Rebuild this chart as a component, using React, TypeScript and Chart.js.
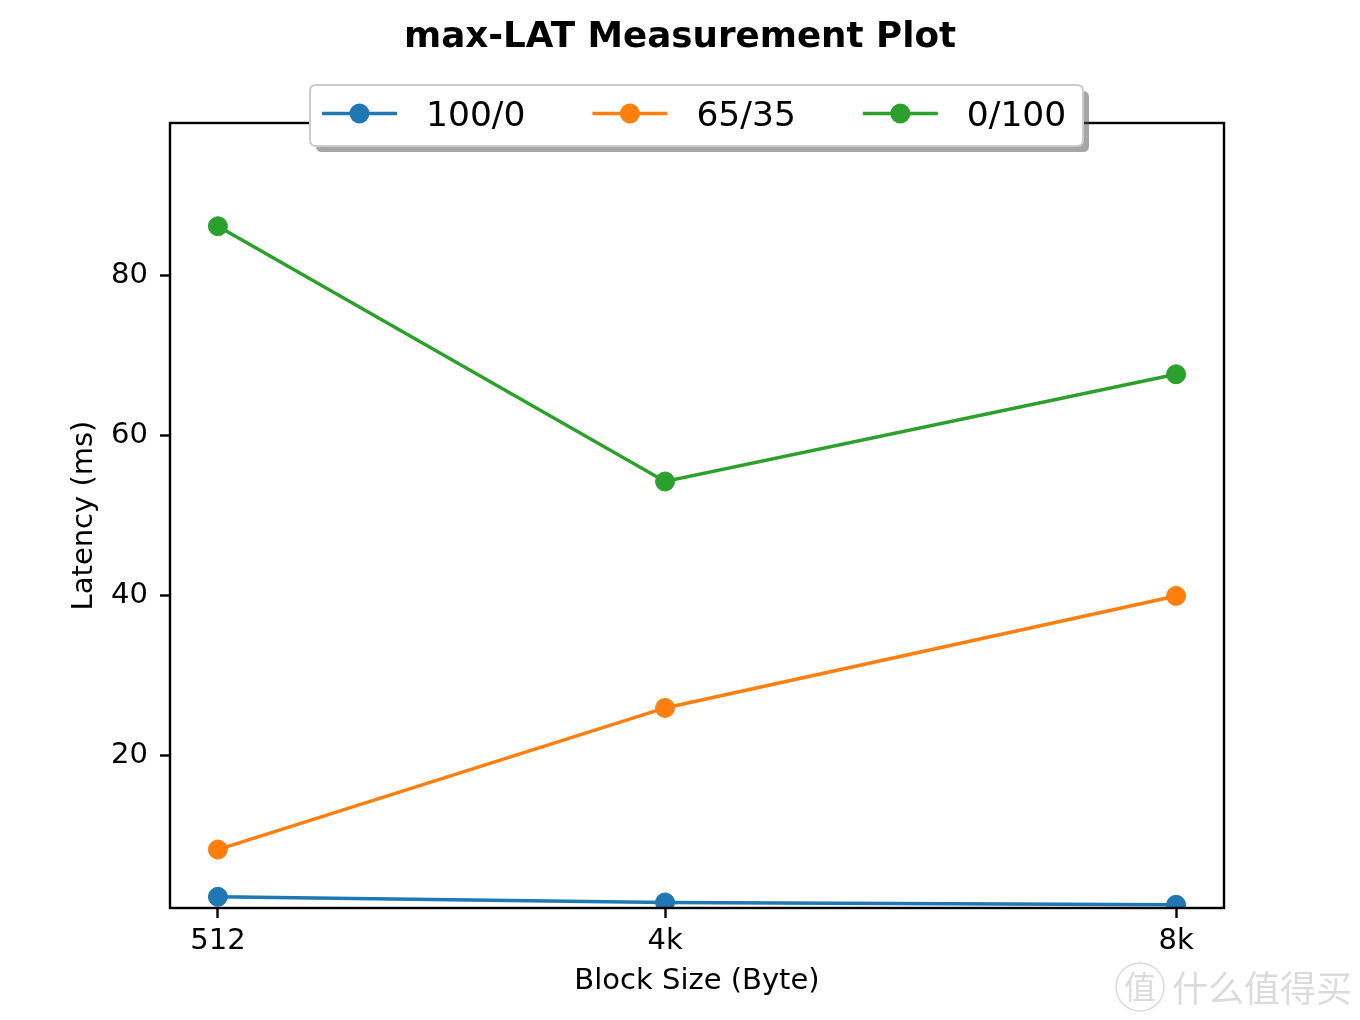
import React, { useEffect, useRef } from 'react';
import { Chart, registerables } from 'chart.js';

Chart.register(...registerables);

// ---- data ----
const blockSizes = [512, 4096, 8192];
const blockLabels = ['512', '4k', '8k'];
const series100_0 = [2.4, 1.7, 1.4];
const series65_35 = [8.3, 26.0, 40.0];
const series0_100 = [86.2, 54.3, 67.7];
const seriesNames = ['100/0', '65/35', '0/100'];
const seriesColors = ['#1f77b4', '#ff7f0e', '#2ca02c'];
const yTickValues = [20, 40, 60, 80];
const chartTitle = 'max-LAT Measurement Plot';
const xTitle = 'Block Size (Byte)';
const yTitle = 'Latency (ms)';
const watermarkText = '什么值得买';

const FONT = "'DejaVu Sans', 'Noto Sans', sans-serif";

function roundRect(ctx: CanvasRenderingContext2D, x: number, y: number, w: number, h: number, r: number) {
  ctx.beginPath();
  ctx.moveTo(x + r, y);
  ctx.lineTo(x + w - r, y);
  ctx.quadraticCurveTo(x + w, y, x + w, y + r);
  ctx.lineTo(x + w, y + h - r);
  ctx.quadraticCurveTo(x + w, y + h, x + w - r, y + h);
  ctx.lineTo(x + r, y + h);
  ctx.quadraticCurveTo(x, y + h, x, y + h - r);
  ctx.lineTo(x, y + r);
  ctx.quadraticCurveTo(x, y, x + r, y);
  ctx.closePath();
}

const decorPlugin = {
  id: 'decor',
  afterDatasetsDraw(chart: any) {
    const { ctx, chartArea: a } = chart;
    ctx.save();
    ctx.strokeStyle = '#000';
    ctx.lineWidth = 2.4;
    ctx.strokeRect(a.left, a.top, a.right - a.left, a.bottom - a.top);
    ctx.restore();
  },
  afterDraw(chart: any) {
    const { ctx } = chart;
    ctx.save();
    // title
    ctx.fillStyle = '#000';
    ctx.font = `bold 35.7px ${FONT}`;
    ctx.textAlign = 'center';
    ctx.textBaseline = 'alphabetic';
    ctx.fillText(chartTitle, 680, 47);

    // legend
    const bx = 310, by = 85, bw = 773, bh = 61;
    ctx.fillStyle = 'rgba(77,77,77,0.5)';
    roundRect(ctx, bx + 6, by + 6, bw, bh, 6);
    ctx.fill();
    ctx.fillStyle = '#ffffff';
    roundRect(ctx, bx, by, bw, bh, 6);
    ctx.fill();
    ctx.strokeStyle = '#cccccc';
    ctx.lineWidth = 2;
    ctx.stroke();

    ctx.font = `34.5px ${FONT}`;
    ctx.textAlign = 'left';
    ctx.textBaseline = 'alphabetic';
    let x = 322;
    const ly = 113.5;
    seriesNames.forEach((name, i) => {
      ctx.strokeStyle = seriesColors[i];
      ctx.lineWidth = 3.5;
      ctx.beginPath();
      ctx.moveTo(x, ly);
      ctx.lineTo(x + 75, ly);
      ctx.stroke();
      ctx.fillStyle = seriesColors[i];
      ctx.beginPath();
      ctx.arc(x + 37.5, ly, 10, 0, Math.PI * 2);
      ctx.fill();
      ctx.fillStyle = '#000';
      ctx.fillText(name, x + 104, 126);
      const w = ctx.measureText(name).width;
      x += 104 + w + 67;
    });

    // watermark
    ctx.globalAlpha = 0.3;
    ctx.strokeStyle = '#888';
    ctx.lineWidth = 1.5;
    ctx.beginPath();
    ctx.arc(1140, 987, 24, 0, Math.PI * 2);
    ctx.stroke();
    ctx.fillStyle = '#888';
    ctx.font = `32px 'Noto Sans CJK SC', sans-serif`;
    ctx.textAlign = 'center';
    ctx.textBaseline = 'middle';
    ctx.fillText('值', 1140, 987);
    ctx.textAlign = 'left';
    ctx.font = `36px 'Noto Sans CJK SC', sans-serif`;
    ctx.fillText(watermarkText, 1172, 988);
    ctx.restore();
  },
};

export default function App() {
  const canvasRef = useRef<HTMLCanvasElement | null>(null);

  useEffect(() => {
    if (!canvasRef.current) return;
    const allSeries = [series100_0, series65_35, series0_100];
    const chart = new Chart(canvasRef.current, {
      type: 'line',
      data: {
        datasets: allSeries.map((vals, i) => ({
          label: seriesNames[i],
          data: blockSizes.map((b, j) => ({ x: b, y: vals[j] })),
          borderColor: seriesColors[i],
          backgroundColor: seriesColors[i],
          borderWidth: 3.5,
          pointRadius: 9.5,
          pointHoverRadius: 9.5,
          pointBorderWidth: 1,
          tension: 0,
          clip: 0,
        })),
      },
      options: {
        animation: false,
        responsive: true,
        maintainAspectRatio: false,
        events: [],
        layout: { padding: { top: 123, right: 136, bottom: 0, left: 0 } },
        plugins: {
          legend: { display: false },
          title: { display: false },
          tooltip: { enabled: false },
        },
        scales: {
          x: {
            type: 'linear',
            min: 128,
            max: 8576,
            afterFit: (s: any) => { s.height = 112; },
            afterBuildTicks: (s: any) => { s.ticks = blockSizes.map((v) => ({ value: v })); },
            ticks: {
              autoSkip: false,
              maxRotation: 0,
              padding: 6,
              color: '#000',
              font: { family: FONT, size: 29 },
              callback: (v: any) => {
                const idx = blockSizes.indexOf(Number(v));
                return idx >= 0 ? blockLabels[idx] : '';
              },
            },
            grid: { display: true, drawOnChartArea: false, drawTicks: true, tickLength: 10, tickWidth: 2.4, tickColor: '#000' },
            border: { display: false },
            title: { display: true, text: xTitle, color: '#000', font: { family: FONT, size: 29 }, padding: { top: 0, bottom: 21 } },
          },
          y: {
            type: 'linear',
            min: 1,
            max: 99.1,
            afterFit: (s: any) => { s.width = 170; },
            afterBuildTicks: (s: any) => { s.ticks = yTickValues.map((v) => ({ value: v })); },
            ticks: {
              padding: 12,
              color: '#000',
              font: { family: FONT, size: 29 },
            },
            grid: { display: true, drawOnChartArea: false, drawTicks: true, tickLength: 10, tickWidth: 2.4, tickColor: '#000' },
            border: { display: false },
            title: { display: true, text: yTitle, color: '#000', font: { family: FONT, size: 29 }, padding: { top: 67, bottom: 0 } },
          },
        },
      },
      plugins: [decorPlugin],
    } as any);
    return () => chart.destroy();
  }, []);

  return (
    <div style={{ position: 'absolute', left: 0, top: 0, width: 1360, height: 1020, background: '#fff' }}>
      <canvas ref={canvasRef} width={1360} height={1020} />
    </div>
  );
}
